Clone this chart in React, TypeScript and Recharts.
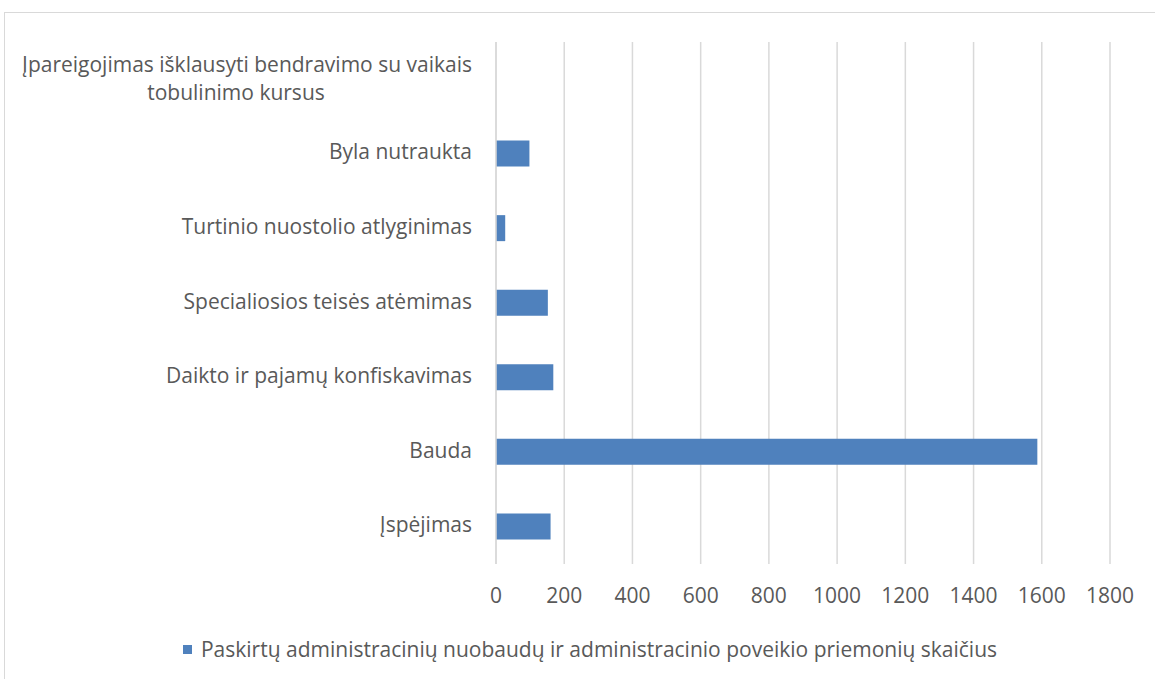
import React from "react";
import {
  BarChart, Bar, XAxis, YAxis, CartesianGrid,
} from "recharts";

const categories = [
  "Įpareigojimas išklausyti bendravimo su vaikais tobulinimo kursus",
  "Byla nutraukta",
  "Turtinio nuostolio atlyginimas",
  "Specialiosios teisės atėmimas",
  "Daikto ir pajamų konfiskavimas",
  "Bauda",
  "Įspėjimas",
];
const counts = [0, 98, 27, 152, 168, 1587, 160];
const xTicks = [0, 200, 400, 600, 800, 1000, 1200, 1400, 1600, 1800];
const seriesName =
  "Paskirtų administracinių nuobaudų ir administracinio poveikio priemonių skaičius";

const data = categories.map((name, i) => ({ name, value: counts[i] }));

const FONT = "'Open Sans', 'Noto Sans', sans-serif";
const TEXT = "#595959";
const GRID = "#d9d9d9";
const BLUE = "#4f81bd";
const FS = 21;

const CategoryTick = ({ x, y, payload }: any) => {
  const label: string = payload.value;
  const ax = x - 16;
  if (label.length <= 45) {
    return (
      <text x={ax} y={y} textAnchor="end" dominantBaseline="middle"
        fill={TEXT} fontSize={FS} fontFamily={FONT}>
        {label}
      </text>
    );
  }
  // long label wraps onto two lines like the original
  const cut = label.lastIndexOf(" ", 47);
  return (
    <text fill={TEXT} fontSize={FS} fontFamily={FONT}>
      <tspan x={ax} y={y - 13} textAnchor="end" dominantBaseline="middle">
        {label.slice(0, cut)}
      </tspan>
      <tspan x={ax - 236} y={y + 15} textAnchor="middle" dominantBaseline="middle">
        {label.slice(cut + 1)}
      </tspan>
    </text>
  );
};

const ValueTick = ({ x, y, payload }: any) => (
  <text x={x} y={y + 25} textAnchor="middle" dominantBaseline="middle"
    fill={TEXT} fontSize={FS} fontFamily={FONT}>
    {payload.value}
  </text>
);

export default function App() {
  return (
    <div style={{
      position: "absolute", left: 0, top: 0, width: 1155, height: 679,
      background: "#fff", overflow: "hidden",
    }}>
      <div style={{
        position: "absolute", left: 4, top: 12, width: 1200, height: 700,
        border: `1.5px solid ${GRID}`, boxSizing: "border-box",
      }} />
      <div style={{ position: "absolute", left: 0, top: 0 }}>
        <BarChart
          width={1155}
          height={679}
          data={data}
          layout="vertical"
          margin={{ top: 42, right: 45, bottom: 75, left: 0 }}
        >
          <CartesianGrid horizontal={false} stroke={GRID} strokeWidth={1.5} />
          <XAxis
            type="number"
            domain={[0, 1800]}
            ticks={xTicks}
            axisLine={false}
            tickLine={false}
            tick={<ValueTick />}
            interval={0}
            height={40}
          />
          <YAxis
            type="category"
            dataKey="name"
            width={496}
            axisLine={{ stroke: GRID, strokeWidth: 1.5 }}
            tickLine={false}
            tick={<CategoryTick />}
            interval={0}
          />
          <Bar dataKey="value" name={seriesName} fill={BLUE} barSize={26}
            isAnimationActive={false} />
        </BarChart>
      </div>
      <div style={{
        position: "absolute", left: 0, width: 1180, top: 634, height: 30,
        display: "flex", alignItems: "center", justifyContent: "center",
        fontFamily: FONT, fontSize: FS, color: TEXT, whiteSpace: "nowrap",
      }}>
        <span style={{ width: 9, height: 9, background: BLUE, marginRight: 9, display: "inline-block" }} />
        {seriesName}
      </div>
    </div>
  );
}
